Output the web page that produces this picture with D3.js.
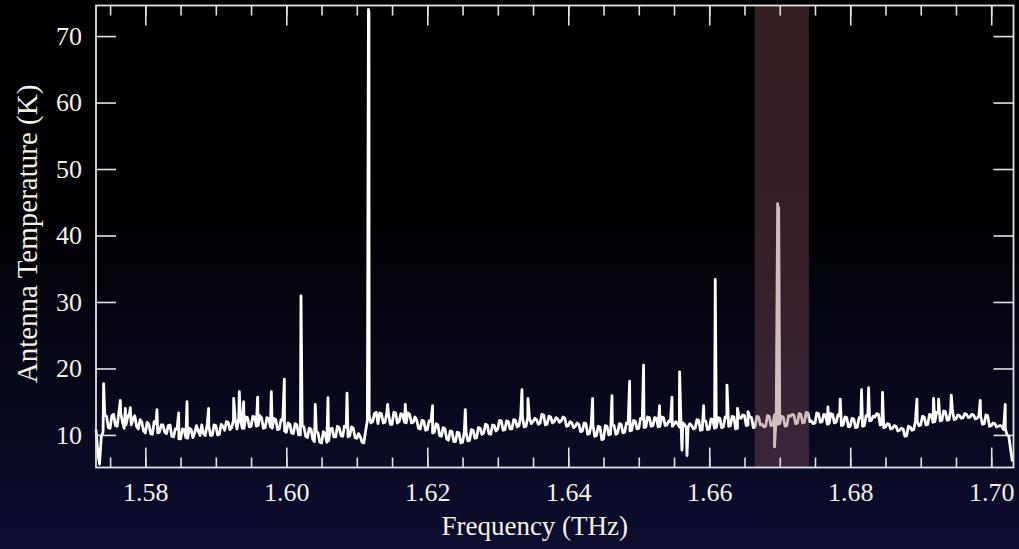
<!DOCTYPE html>
<meta charset="utf-8">
<head>
    <script src="https://d3js.org/d3.v7.min.js"></script>
    <style>
        html, body { margin: 0; padding: 0; background: #000; overflow: hidden; }
        text { font-family: "Liberation Serif", "Times New Roman", serif; }
    </style>
</head>
<body>
<div id="chart"></div>
<script>
    // spectrum sampled every 0.0005 THz starting at 1.5730 THz
    var freqStart = 1.5730;
    var freqStep = 0.0005;
    var temps = [
        10.8, 5.6, 10.4, 12.8, 11.0, 13.1, 11.3, 13.3, 11.0, 12.7,
        11.5, 12.9, 10.9, 11.9, 10.3, 11.6, 10.1, 11.7, 10.4, 11.5,
        10.2, 11.5, 9.7, 10.9, 9.4, 10.8, 9.5, 10.8, 10.3, 10.6,
        11.5, 9.9, 11.3, 10.0, 11.4, 10.1, 11.3, 12.0, 10.8, 12.2,
        10.9, 12.3, 11.0, 12.6, 11.3, 12.7, 11.4, 12.5, 11.1, 12.4,
        11.0, 12.3, 10.9, 12.2, 10.4, 11.6, 10.2, 11.5, 10.0, 11.2,
        9.6, 10.9, 9.0, 10.3, 8.8, 10.2, 9.1, 11.0, 9.7, 11.1,
        9.8, 11.2, 9.9, 11.0, 9.5, 9.7, 8.8, 12.2, 11.8, 13.2,
        11.7, 13.2, 11.9, 13.1, 11.6, 13.3, 12.0, 13.0, 11.8, 13.1,
        11.9, 12.2, 10.9, 12.1, 10.8, 12.0, 10.4, 11.5, 9.8, 10.9,
        9.2, 10.5, 9.0, 10.3, 8.9, 10.4, 9.2, 10.7, 9.6, 11.0,
        10.3, 11.5, 10.1, 11.4, 10.9, 12.1, 10.8, 12.0, 10.9, 12.2,
        11.4, 12.7, 11.3, 12.5, 12.0, 12.3, 11.8, 13.0, 11.6, 12.7,
        12.0, 12.4, 12.1, 12.5, 11.4, 11.8, 11.3, 11.6, 10.6, 11.7,
        10.2, 11.5, 9.9, 11.2, 9.4, 11.3, 10.1, 11.4, 10.3, 11.6,
        10.4, 11.7, 10.7, 12.1, 11.0, 12.4, 11.2, 12.6, 11.4, 12.5,
        11.3, 12.6, 11.5, 12.0, 11.6, 11.7, 11.4, 11.6, 11.2, 11.4,
        11.0, 12.2, 10.8, 12.1, 10.9, 12.3, 11.1, 12.5, 11.2, 12.6,
        11.4, 12.7, 11.0, 12.5, 12.9, 11.5, 12.6, 11.2, 12.7, 11.6,
        11.3, 12.8, 11.5, 12.9, 11.7, 12.7, 11.4, 12.8, 13.0, 11.8,
        13.1, 11.9, 13.3, 12.1, 11.8, 13.2, 12.0, 13.0, 11.7, 13.1,
        11.9, 12.9, 11.5, 12.6, 11.3, 12.4, 11.2, 12.5, 11.4, 12.8,
        12.2, 12.7, 13.1, 11.6, 11.2, 11.6, 11.0, 11.3, 10.7, 10.9,
        9.9, 11.2, 10.8, 12.0, 11.5, 12.7, 11.6, 13.0, 12.0, 13.3,
        12.2, 13.5, 12.3, 13.6, 12.4, 12.9, 12.6, 13.1, 12.7, 13.0,
        12.5, 12.8, 11.7, 12.9, 11.4, 11.7, 11.3, 11.3, 10.9, 9.8,
        6.0
    ];
    // intermediate channels, at 1.57325 + i * 0.0005 THz
    var midStart = 1.57325;
    var tempsMid = [
        7.5, 9.8, 13.0, 11.1, 12.9, 11.4, 13.4, 12.0, 11.5, 13.2,
        12.4, 11.3, 12.3, 10.6, 11.9, 10.2, 12.0, 10.3, 11.5, 10.4,
        11.4, 9.8, 10.9, 9.4, 10.9, 9.6, 11.0, 9.6, 11.4, 9.9,
        10.2, 11.4, 9.9, 11.5, 10.0, 11.6, 10.7, 11.9, 11.1, 12.4,
        12.5, 11.0, 12.7, 11.2, 12.8, 11.3, 12.9, 11.0, 12.6, 11.2,
        12.5, 10.8, 12.3, 10.6, 11.8, 10.3, 11.7, 10.0, 11.4, 9.8,
        11.0, 9.3, 10.6, 8.9, 10.5, 8.9, 10.9, 9.7, 11.3, 9.9,
        11.3, 9.7, 11.2, 9.6, 10.2, 8.9, 10.6, 12.9, 12.0, 13.4,
        13.3, 11.8, 13.3, 11.6, 13.4, 11.8, 13.2, 11.9, 13.3, 11.8,
        12.7, 11.0, 12.2, 10.7, 12.1, 10.3, 11.7, 9.9, 11.1, 9.4,
        10.6, 9.0, 10.4, 8.8, 10.5, 9.1, 10.8, 9.5, 11.1, 10.1,
        11.6, 10.2, 11.5, 10.6, 12.2, 10.7, 12.1, 10.9, 12.3, 11.2,
        12.8, 11.2, 12.6, 11.7, 12.5, 11.6, 13.1, 11.5, 12.8, 11.8,
        12.6, 11.9, 12.7, 11.3, 12.0, 11.1, 11.8, 10.5, 11.8, 10.1,
        11.6, 9.8, 11.3, 9.3, 11.4, 10.0, 11.5, 10.1, 11.7, 10.3,
        11.8, 10.6, 12.2, 10.9, 12.5, 11.1, 12.7, 11.3, 12.6, 11.2,
        12.7, 11.4, 12.1, 11.3, 12.0, 11.2, 11.8, 11.0, 11.7, 10.9,
        12.3, 10.7, 12.2, 10.8, 12.4, 11.0, 12.6, 11.1, 12.7, 11.3,
        12.8, 10.9, 12.6, 13.0, 11.4, 12.7, 11.1, 12.8, 11.5, 11.2,
        12.9, 11.4, 13.0, 11.6, 12.8, 11.3, 12.9, 13.1, 11.7, 13.2,
        11.8, 13.4, 12.0, 11.7, 13.3, 11.9, 13.1, 11.6, 13.2, 11.8,
        13.0, 11.4, 12.7, 11.2, 12.5, 11.1, 12.6, 11.3, 12.9, 12.1,
        12.8, 13.2, 11.5, 11.1, 11.7, 10.9, 11.4, 10.6, 11.0, 9.8,
        11.3, 10.7, 12.1, 11.4, 12.8, 11.5, 13.1, 11.9, 13.4, 12.1,
        13.6, 12.2, 13.7, 12.3, 13.0, 12.5, 13.2, 12.6, 13.1, 12.4,
        12.9, 11.6, 13.0, 11.3, 11.8, 11.2, 11.4, 10.8, 10.0, 7.8
    ];

    // narrow lines and dips on top of the baseline
    var spikeFreqs = [
        1.57408, 1.57645, 1.57716, 1.57787, 1.58165, 1.58473, 1.58591, 1.58898,
        1.59253, 1.59333, 1.59395, 1.59593, 1.59787, 1.59972, 1.60208, 1.60411,
        1.60591, 1.60861, 1.61165, 1.61172, 1.61437, 1.61688, 1.62075, 1.62539,
        1.63343, 1.63428, 1.64345, 1.64620, 1.64870, 1.65068, 1.65295, 1.65471,
        1.65579, 1.65613, 1.65684, 1.65920, 1.66085, 1.66251, 1.66400, 1.66550,
        1.66926, 1.66970, 1.66985, 1.67683, 1.67858, 1.68160, 1.68260, 1.68458,
        1.68946, 1.69182, 1.69253, 1.69433, 1.69844, 1.70199
    ];
    var spikeTemps = [
        17.7, 15.2, 14.0, 14.1, 13.8, 13.3, 15.0, 14.0,
        15.5, 16.5, 15.0, 15.7, 16.5, 18.4, 30.9, 14.6,
        15.6, 16.3, 74.0, 73.6, 14.6, 14.6, 14.4, 13.8,
        16.8, 15.5, 15.5, 15.9, 18.1, 20.5, 14.4, 15.7,
        19.5, 7.7, 6.9, 14.4, 33.4, 17.5, 14.0, 13.5,
        8.2, 44.8, 44.2, 14.2, 15.4, 16.8, 17.1, 16.4,
        15.4, 15.5, 15.4, 16.0, 15.2, 14.6
    ];

    var bandRange = [1.66643, 1.67414];
    var xMajor = [1.58, 1.60, 1.62, 1.64, 1.66, 1.68, 1.70];
    var xMinor = [1.575, 1.580, 1.585, 1.590, 1.595, 1.600, 1.605, 1.610, 1.615, 1.620,
                  1.625, 1.630, 1.635, 1.640, 1.645, 1.650, 1.655, 1.660, 1.665, 1.670,
                  1.675, 1.680, 1.685, 1.690, 1.695, 1.700];
    var yTicks = [10, 20, 30, 40, 50, 60, 70];

    var W = 1019, H = 549;
    var margin = {top: 5.5, right: 5.5, bottom: 81.5, left: 96},
        width = W - margin.left - margin.right,
        height = H - margin.top - margin.bottom;

    var root = d3.select("#chart").append("svg")
        .attr("width", W).attr("height", H);

    var grad = root.append("defs").append("linearGradient")
        .attr("id", "bg").attr("x1", 0).attr("y1", 0).attr("x2", 0).attr("y2", 1);
    grad.append("stop").attr("offset", "0%").attr("stop-color", "#000000");
    grad.append("stop").attr("offset", "40%").attr("stop-color", "#010104");
    grad.append("stop").attr("offset", "100%").attr("stop-color", "#0d0e31");
    root.append("rect").attr("width", W).attr("height", H).attr("fill", "url(#bg)");

    var svg = root.append("g")
        .attr("transform", "translate(" + margin.left + "," + margin.top + ")");

    var x = d3.scaleLinear().domain([1.5730, 1.70316]).range([0, width]);
    var y = d3.scaleLinear().domain([5.1, 74.6]).range([height, 0]);

    // merge all channels with the narrow features
    var data = temps.map(function(t, i) { return {f: freqStart + i * freqStep, t: t}; });
    tempsMid.forEach(function(t, i) { data.push({f: midStart + i * freqStep, t: t}); });
    spikeFreqs.forEach(function(f, i) { data.push({f: f, t: spikeTemps[i]}); });
    data.sort(function(a, b) { return a.f - b.f; });

    svg.append("path")
        .datum(data)
        .attr("fill", "none")
        .attr("stroke", "#ffffff")
        .attr("stroke-width", 2.8)
        .attr("stroke-linejoin", "round")
        .attr("d", d3.line().x(function(d) { return x(d.f); }).y(function(d) { return y(d.t); }));

    // highlighted band
    svg.append("rect")
        .attr("x", x(bandRange[0]))
        .attr("width", x(bandRange[1]) - x(bandRange[0]))
        .attr("y", 0).attr("height", height)
        .attr("fill", "rgb(140,80,90)").attr("fill-opacity", 0.38);

    var tickColor = "#e2e2e2";
    function style(g) {
        g.select(".domain").remove();
        g.selectAll("line").attr("stroke", tickColor).attr("stroke-width", 1.6);
        g.selectAll("text").attr("fill", "#f4f1e6").style("font-size", "26px")
            .style("font-family", '"Liberation Serif", "Times New Roman", serif');
    }

    // bottom / top minor + major ticks
    svg.append("g").attr("transform", "translate(0," + height + ")")
        .call(d3.axisBottom(x).tickValues(xMinor).tickSize(-10).tickFormat("")).call(style);
    svg.append("g").attr("transform", "translate(0," + height + ")")
        .call(d3.axisBottom(x).tickValues(xMajor).tickSize(-20).tickPadding(15)
              .tickFormat(d3.format(".2f"))).call(style);
    svg.append("g")
        .call(d3.axisTop(x).tickValues(xMinor).tickSize(-10).tickFormat("")).call(style);
    svg.append("g")
        .call(d3.axisTop(x).tickValues(xMajor).tickSize(-20).tickFormat("")).call(style);

    svg.append("g")
        .call(d3.axisLeft(y).tickValues(yTicks).tickSize(-20).tickPadding(14)).call(style);
    svg.append("g").attr("transform", "translate(" + width + ",0)")
        .call(d3.axisRight(y).tickValues(yTicks).tickSize(-20).tickFormat("")).call(style);

    // frame
    svg.append("rect")
        .attr("width", width).attr("height", height)
        .attr("fill", "none").attr("stroke", tickColor).attr("stroke-width", 1.8);

    // axis titles
    svg.append("text")
        .attr("x", width / 2 - 20).attr("y", height + 67)
        .attr("text-anchor", "middle")
        .attr("fill", "#f4f1e6").style("font-size", "27px")
        .text("Frequency (THz)");

    svg.append("text")
        .attr("transform", "translate(" + (37 - margin.left) + "," + (234 - margin.top) + ") rotate(-90)")
        .attr("text-anchor", "middle")
        .attr("fill", "#f4f1e6").style("font-size", "29px")
        .text("Antenna Temperature (K)");
</script>
</body>
